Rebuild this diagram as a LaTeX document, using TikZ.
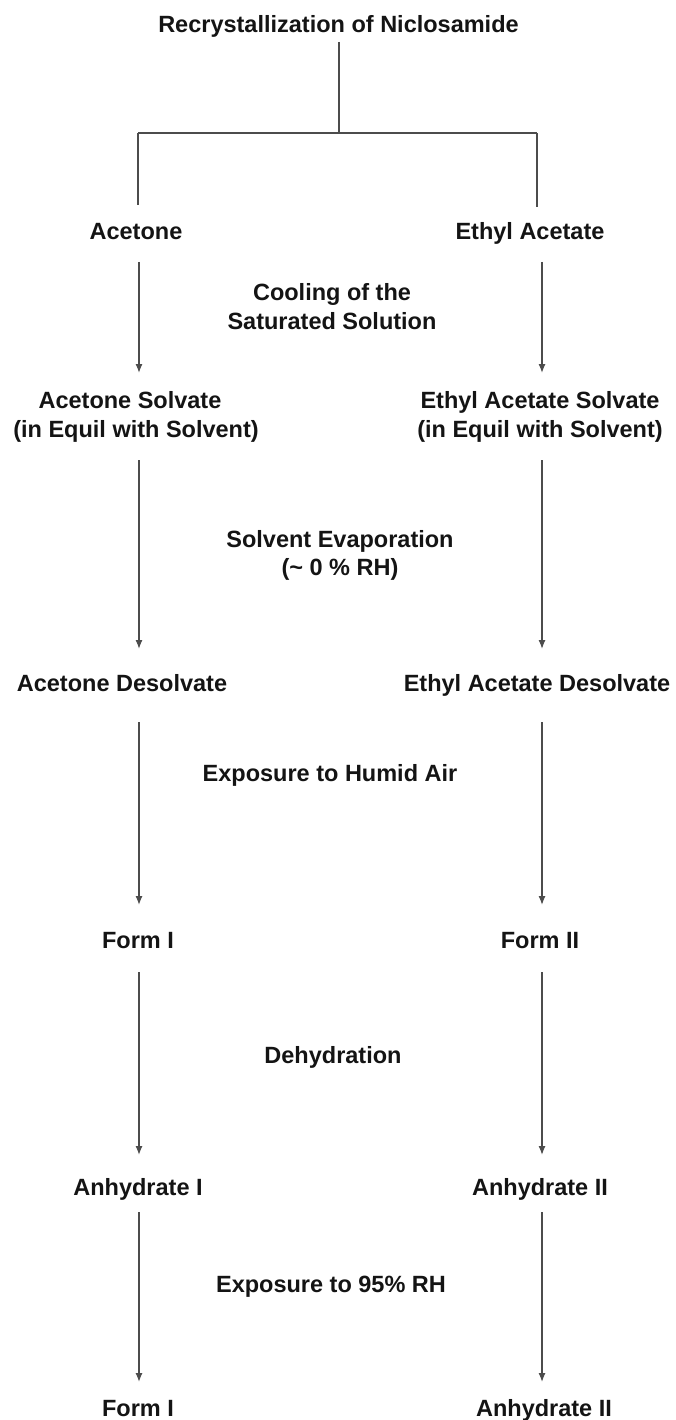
\documentclass[tikz,border=0pt]{standalone}
\usepackage{fontspec}
\setmainfont{Liberation Sans}
\usetikzlibrary{arrows.meta}
\tikzset{
  lbl/.style={anchor=base, inner sep=0pt, text=black!92, font=\fontsize{23.5}{28}\selectfont\bfseries},
  conn/.style={draw=black!70, line width=1.3pt},
  arr/.style={conn, -{Latex[length=9pt,width=7pt]}},
}
\begin{document}
\begin{tikzpicture}[x=1pt,y=-1pt]
\useasboundingbox[fill=white] (0,0) rectangle (675,1420);
% texts
\node[lbl] (title) at (338.5,33) {Recrystallization of Niclosamide};
\node[lbl] (acet) at (136,240) {Acetone};
\node[lbl] (etac) at (530,240) {Ethyl Acetate};
\node[lbl] (cool1) at (332,301) {Cooling of the};
\node[lbl] (cool2) at (332,329) {Saturated Solution};
\node[lbl] (asolv1) at (130,408) {Acetone Solvate};
\node[lbl] (asolv2) at (136,437) {(in Equil with Solvent)};
\node[lbl] (esolv1) at (540,408) {Ethyl Acetate Solvate};
\node[lbl] (esolv2) at (540,437) {(in Equil with Solvent)};
\node[lbl] (evap1) at (340,547) {Solvent Evaporation};
\node[lbl] (evap2) at (340,575) {(\textasciitilde{} 0 \% RH)};
\node[lbl] (ades) at (122,691) {Acetone Desolvate};
\node[lbl] (edes) at (537,691) {Ethyl Acetate Desolvate};
\node[lbl] (humid) at (330,781) {Exposure to Humid Air};
\node[lbl] (f1) at (138,948) {Form I};
\node[lbl] (f2) at (540,948) {Form II};
\node[lbl] (dehyd) at (333,1063) {Dehydration};
\node[lbl] (an1) at (138,1195) {Anhydrate I};
\node[lbl] (an2) at (540,1195) {Anhydrate II};
\node[lbl] (rh) at (331,1292) {Exposure to 95\% RH};
\node[lbl] (f1b) at (138,1416) {Form I};
\node[lbl] (an2b) at (544,1416) {Anhydrate II};
% tree
\coordinate (stemtop) at (339,42);
\coordinate (stembot) at (339,133);
\coordinate (bl) at (138,133);
\coordinate (br) at (537,133);
\coordinate (blend) at (138,205);
\coordinate (brend) at (537,207);
\draw[conn] (stemtop) -- (stembot);
\draw[conn] (bl) -- (br);
\draw[conn] (bl) -- (blend);
\draw[conn] (br) -- (brend);
% arrow ends
\foreach \n/\a/\b in {1/262/373, 2/460/649, 3/722/905, 4/972/1155, 5/1212/1382}{
  \coordinate (Ls\n) at (139,\a);
  \coordinate (Le\n) at (139,\b);
  \coordinate (Rs\n) at (542,\a);
  \coordinate (Re\n) at (542,\b);
  \draw[arr] (Ls\n) -- (Le\n);
  \draw[arr] (Rs\n) -- (Re\n);
}
\end{tikzpicture}
\end{document}
